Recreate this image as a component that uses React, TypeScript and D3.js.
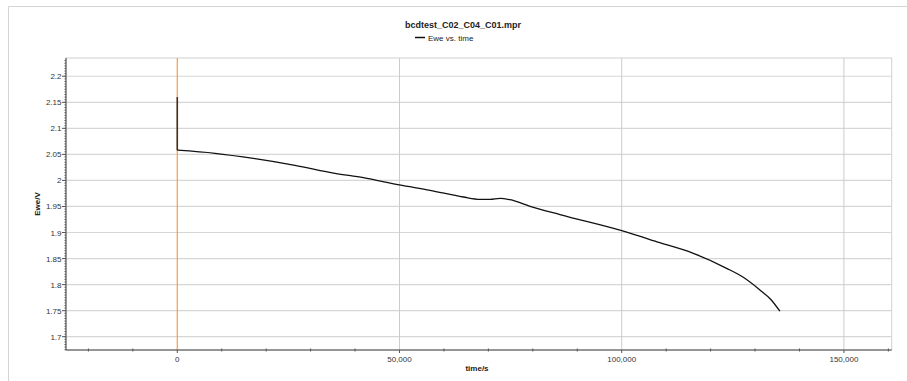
import React from 'react';
import * as d3 from 'd3';

// Ewe vs. time
const timeS = [0, 0, 8480, 17480, 26480, 35480, 41860, 49960, 56870, 64360, 68120, 70370, 72620, 74870, 79370, 86110, 100000, 108580, 116100, 123600, 127350, 131100, 133500, 135600];
const eweV = [2.16, 2.058, 2.0521, 2.0418, 2.0291, 2.0137, 2.0053, 1.9913, 1.9811, 1.9682, 1.9638, 1.9638, 1.9657, 1.963, 1.9504, 1.9343, 1.9035, 1.8805, 1.8601, 1.8313, 1.814, 1.7897, 1.772, 1.749];

const xTicks = [0, 50000, 100000, 150000];
const yTicks = [1.7, 1.75, 1.8, 1.85, 1.9, 1.95, 2, 2.05, 2.1, 2.15, 2.2];

const title = 'bcdtest_C02_C04_C01.mpr';
const legendLabel = 'Ewe vs. time';

export default function App() {
  const width = 907;
  const height = 381;
  const left = 66, right = 891.7, top = 58, bottom = 350;

  const x = d3.scaleLinear().domain([-25040, 160750]).range([left, right]);
  const y = d3.scaleLinear().domain([1.6745, 2.235]).range([bottom, top]);

  // the rest drop at t=0 is vertical, so it is drawn on its own
  const dropPath = `M${x(timeS[0])},${y(eweV[0])}L${x(timeS[1])},${y(eweV[1])}`;
  const mainPath = d3.line<number>()
    .x((_, i) => x(timeS[i + 1]))
    .y(d => y(d))
    .curve(d3.curveMonotoneX)(eweV.slice(1)) || '';

  const minorX = d3.range(-20000, 160001, 10000).filter(v => !xTicks.includes(v));
  const minorY = d3.range(0, 112).map(i => 1.675 + i * 0.005).filter(v => v <= 2.235);

  const font = '"Liberation Sans", Arial, sans-serif';

  return (
    <svg width={width} height={height} style={{ position: 'absolute', left: 0, top: 0, background: '#fff' }} fontFamily={font}>
      {/* outer frame */}
      <path d={`M8.5,${height}V6.5H${width}`} fill="none" stroke="#d4d4d4" />

      <text x={463} y={28} textAnchor="middle" fontSize={9} fontWeight="bold" fill="#222">{title}</text>
      <line x1={415} x2={425} y1={37.5} y2={37.5} stroke="#111" strokeWidth={1.5} />
      <text x={428} y={40.5} fontSize={8} fill="#222">{legendLabel}</text>

      <rect x={left} y={top} width={right - left} height={bottom - top} fill="#fff" stroke="#d0d0d0" />

      {/* grid */}
      {yTicks.map(v => (
        <line key={'gy' + v} x1={left} x2={right} y1={y(v)} y2={y(v)} stroke="#d6d6d6" strokeWidth={1.2} />
      ))}
      {xTicks.filter(v => v !== 0).map(v => (
        <line key={'gx' + v} x1={x(v)} x2={x(v)} y1={top} y2={bottom} stroke="#cccccc" />
      ))}
      <line x1={x(0)} x2={x(0)} y1={top} y2={bottom} stroke="#ff9933" strokeWidth={1.2} />

      {/* data */}
      <path d={dropPath} fill="none" stroke="#333" strokeWidth={1.6} />
      <path d={mainPath} fill="none" stroke="#111" strokeWidth={1.3} strokeLinejoin="round" />

      {/* axes */}
      <line x1={left} x2={left} y1={top} y2={bottom} stroke="#444" />
      <line x1={left} x2={right} y1={bottom} y2={bottom} stroke="#444" />
      {minorY.map(v => (
        <line key={'my' + v} x1={left - 1.5} x2={left} y1={y(v)} y2={y(v)} stroke="#555" />
      ))}
      {yTicks.map(v => (
        <g key={'ty' + v}>
          <line x1={left - 4} x2={left} y1={y(v)} y2={y(v)} stroke="#555" />
          <text x={left - 4.5} y={y(v) + 3} textAnchor="end" fontSize={8} fill="#333">{d3.format('')(v)}</text>
        </g>
      ))}
      {minorX.map(v => (
        <line key={'mx' + v} x1={x(v)} x2={x(v)} y1={bottom - 1.5} y2={bottom + 1.5} stroke="#555" />
      ))}
      {xTicks.map(v => (
        <g key={'tx' + v}>
          <line x1={x(v)} x2={x(v)} y1={bottom} y2={bottom + 3} stroke="#555" />
          <text x={x(v)} y={362} textAnchor="middle" fontSize={8} fill="#333">{d3.format(',')(v)}</text>
        </g>
      ))}

      <text x={477} y={371} textAnchor="middle" fontSize={8} fontWeight="bold" fill="#222">time/s</text>
      <text transform={`translate(40,204) rotate(-90)`} textAnchor="middle" fontSize={8} fontWeight="bold" fill="#222">Ewe/V</text>
    </svg>
  );
}
